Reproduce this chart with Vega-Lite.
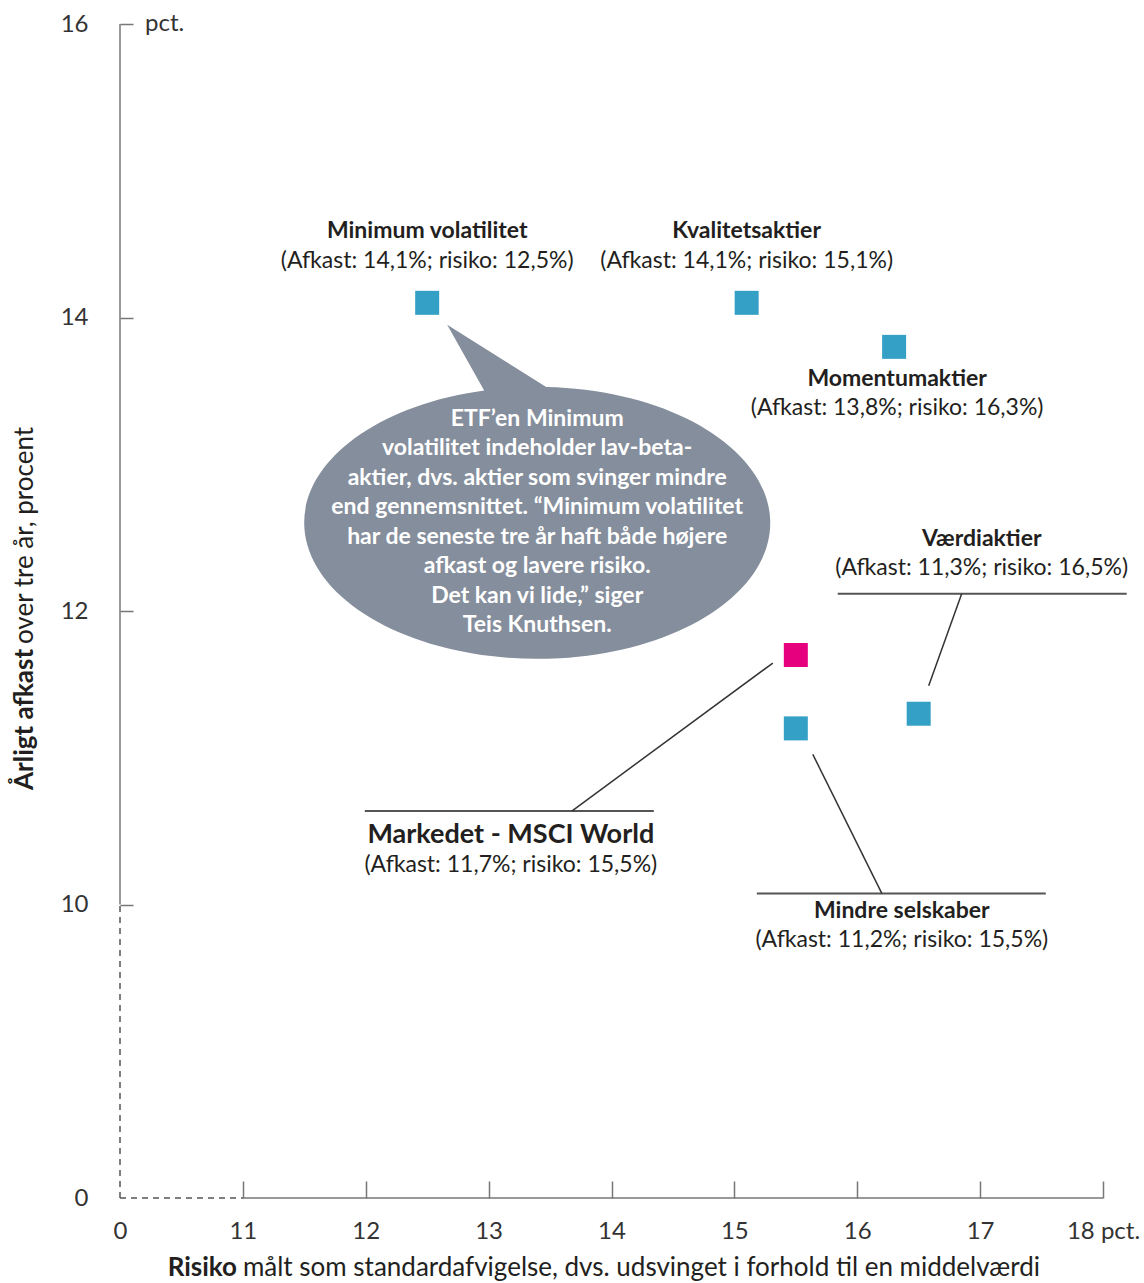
{
  "$schema": "https://vega.github.io/schema/vega-lite/v6.json",
  "width": 983,
  "height": 1174,
  "autosize": {"type": "none"},
  "padding": {"left": 120, "top": 24, "right": 41, "bottom": 85},
  "background": "white",
  "config": {"view": {"stroke": null}},
  "data": {"values": [
    {"navn": "Minimum volatilitet", "info": "(Afkast: 14,1%; risiko: 12,5%)", "risiko": 12.5, "afkast": 14.1, "type": "Faktor-ETF"},
    {"navn": "Kvalitetsaktier", "info": "(Afkast: 14,1%; risiko: 15,1%)", "risiko": 15.1, "afkast": 14.1, "type": "Faktor-ETF"},
    {"navn": "Momentumaktier", "info": "(Afkast: 13,8%; risiko: 16,3%)", "risiko": 16.3, "afkast": 13.8, "type": "Faktor-ETF"},
    {"navn": "Værdiaktier", "info": "(Afkast: 11,3%; risiko: 16,5%)", "risiko": 16.5, "afkast": 11.3, "type": "Faktor-ETF"},
    {"navn": "Mindre selskaber", "info": "(Afkast: 11,2%; risiko: 15,5%)", "risiko": 15.5, "afkast": 11.2, "type": "Faktor-ETF"},
    {"navn": "Markedet - MSCI World", "info": "(Afkast: 11,7%; risiko: 15,5%)", "risiko": 15.5, "afkast": 11.7, "type": "Marked"}
  ]},
  "encoding": {
    "x": {"field": "risiko", "type": "quantitative",
      "scale": {"domain": [10, 18], "nice": false, "zero": false},
      "axis": {"values": [10, 11, 12, 13, 14, 15, 16, 17, 18],
        "labelExpr": "datum.value == 10 ? '0' : datum.value == 18 ? '18 pct.' : datum.label",
        "domain": false, "grid": false, "tickSize": -17, "tickColor": "#777", "tickWidth": 1.5,
        "tickOpacity": {"condition": {"test": "datum.value == 10", "value": 0}, "value": 1},
        "labelFont": "Lato", "labelFontSize": 24, "labelColor": "#333", "labelPadding": 38,
        "labelFlush": false, "labelOverlap": false, "title": null}},
    "y": {"field": "afkast", "type": "quantitative",
      "scale": {"domain": [8, 16], "nice": false, "zero": false},
      "axis": {"values": [8, 10, 12, 14, 16],
        "labelExpr": "datum.value == 8 ? '0' : datum.label",
        "domain": false, "grid": false, "tickSize": -13, "tickColor": "#777", "tickWidth": 1.5,
        "tickOpacity": {"condition": {"test": "datum.value == 8", "value": 0}, "value": 1},
        "labelFont": "Lato", "labelFontSize": 24, "labelColor": "#333", "labelPadding": 45,
        "labelFlush": false, "labelOverlap": false, "title": null}}
  },
  "layer": [
    {"transform": [{"filter": "datum.navn === 'Minimum volatilitet'"}],
     "mark": {"type": "point", "filled": true, "opacity": 1, "color": "#858e9c", "strokeWidth": 0,
       "shape": "M -0.2275 -0.5684 L -0.3863 -0.8498 L 0.0386 -0.5833 A 1 0.5837 0 1 1 -0.2275 -0.5684 Z",
       "size": 217156, "xOffset": 110, "yOffset": 220}},
    {"transform": [{"filter": "datum.navn === 'Minimum volatilitet'"}],
     "mark": {"type": "text", "font": "Lato", "fontSize": 23, "fontWeight": "bold", "color": "white",
       "align": "center", "baseline": "middle", "lineHeight": 29.5, "dx": 110, "dy": 116,
       "text": ["ETF’en Minimum", "volatilitet indeholder lav-beta-", "aktier, dvs. aktier som svinger mindre", "end gennemsnittet. “Minimum volatilitet", "har de seneste tre år haft både højere", "afkast og lavere risiko.", "Det kan vi lide,” siger", "Teis Knuthsen."]}},
    {"transform": [{"filter": "datum.navn === 'Minimum volatilitet'"}],
     "mark": {"type": "rule", "color": "#777", "strokeWidth": 1.5},
     "encoding": {"x": {"datum": 10}, "y": {"datum": 10}, "y2": {"datum": 16}}},
    {"transform": [{"filter": "datum.navn === 'Minimum volatilitet'"}],
     "mark": {"type": "rule", "color": "#555", "strokeWidth": 1.5, "strokeDash": [6, 5]},
     "encoding": {"x": {"datum": 10}, "y": {"datum": 8}, "y2": {"datum": 10}}},
    {"transform": [{"filter": "datum.navn === 'Minimum volatilitet'"}],
     "mark": {"type": "rule", "color": "#777", "strokeWidth": 1.5},
     "encoding": {"x": {"datum": 11}, "x2": {"datum": 18}, "y": {"datum": 8}}},
    {"transform": [{"filter": "datum.navn === 'Minimum volatilitet'"}],
     "mark": {"type": "rule", "color": "#555", "strokeWidth": 1.5, "strokeDash": [6, 5]},
     "encoding": {"x": {"datum": 10}, "x2": {"datum": 11}, "y": {"datum": 8}}},

    {"transform": [{"filter": "datum.navn === 'Værdiaktier'"}],
     "mark": {"type": "rule", "color": "#555", "strokeWidth": 2, "xOffset": -81, "x2Offset": 208, "yOffset": -120, "y2Offset": -120},
     "encoding": {"x2": {"field": "risiko"}, "y2": {"field": "afkast"}}},
    {"transform": [{"filter": "datum.navn === 'Værdiaktier'"}],
     "mark": {"type": "rule", "color": "#333", "strokeWidth": 1.5, "xOffset": 43, "x2Offset": 10, "yOffset": -120, "y2Offset": -28},
     "encoding": {"x2": {"field": "risiko"}, "y2": {"field": "afkast"}}},
    {"transform": [{"filter": "datum.navn === 'Markedet - MSCI World'"}],
     "mark": {"type": "rule", "color": "#555", "strokeWidth": 2, "xOffset": -431, "x2Offset": -142, "yOffset": 156, "y2Offset": 156},
     "encoding": {"x2": {"field": "risiko"}, "y2": {"field": "afkast"}}},
    {"transform": [{"filter": "datum.navn === 'Markedet - MSCI World'"}],
     "mark": {"type": "rule", "color": "#333", "strokeWidth": 1.5, "xOffset": -224, "x2Offset": -23, "yOffset": 156, "y2Offset": 8},
     "encoding": {"x2": {"field": "risiko"}, "y2": {"field": "afkast"}}},
    {"transform": [{"filter": "datum.navn === 'Mindre selskaber'"}],
     "mark": {"type": "rule", "color": "#555", "strokeWidth": 2, "xOffset": -39, "x2Offset": 250, "yOffset": 165, "y2Offset": 165},
     "encoding": {"x2": {"field": "risiko"}, "y2": {"field": "afkast"}}},
    {"transform": [{"filter": "datum.navn === 'Mindre selskaber'"}],
     "mark": {"type": "rule", "color": "#333", "strokeWidth": 1.5, "xOffset": 86, "x2Offset": 17, "yOffset": 165, "y2Offset": 26},
     "encoding": {"x2": {"field": "risiko"}, "y2": {"field": "afkast"}}},

    {"mark": {"type": "point", "shape": "square", "filled": true, "opacity": 1, "size": 576, "strokeWidth": 0},
     "encoding": {"color": {"field": "type", "type": "nominal",
       "scale": {"domain": ["Faktor-ETF", "Marked"], "range": ["#35a0c6", "#e6007e"]}, "legend": null}}},

    {"transform": [{"filter": "datum.navn === 'Minimum volatilitet' || datum.navn === 'Kvalitetsaktier'"}],
     "mark": {"type": "text", "font": "Lato", "fontSize": 23, "fontWeight": "bold", "color": "#231f20", "baseline": "middle", "dy": -72},
     "encoding": {"text": {"field": "navn"}}},
    {"transform": [{"filter": "datum.navn === 'Minimum volatilitet' || datum.navn === 'Kvalitetsaktier'"}],
     "mark": {"type": "text", "font": "Lato", "fontSize": 23, "color": "#231f20", "baseline": "middle", "dy": -42},
     "encoding": {"text": {"field": "info"}}},
    {"transform": [{"filter": "datum.navn === 'Momentumaktier'"}],
     "mark": {"type": "text", "font": "Lato", "fontSize": 23, "fontWeight": "bold", "color": "#231f20", "baseline": "middle", "dx": 3, "dy": 32},
     "encoding": {"text": {"field": "navn"}}},
    {"transform": [{"filter": "datum.navn === 'Momentumaktier'"}],
     "mark": {"type": "text", "font": "Lato", "fontSize": 23, "color": "#231f20", "baseline": "middle", "dx": 3, "dy": 61},
     "encoding": {"text": {"field": "info"}}},
    {"transform": [{"filter": "datum.navn === 'Værdiaktier'"}],
     "mark": {"type": "text", "font": "Lato", "fontSize": 23, "fontWeight": "bold", "color": "#231f20", "baseline": "middle", "dx": 63, "dy": -175},
     "encoding": {"text": {"field": "navn"}}},
    {"transform": [{"filter": "datum.navn === 'Værdiaktier'"}],
     "mark": {"type": "text", "font": "Lato", "fontSize": 23, "color": "#231f20", "baseline": "middle", "dx": 63, "dy": -146},
     "encoding": {"text": {"field": "info"}}},
    {"transform": [{"filter": "datum.navn === 'Markedet - MSCI World'"}],
     "mark": {"type": "text", "font": "Lato", "fontSize": 27, "fontWeight": "bold", "color": "#231f20", "baseline": "middle", "dx": -285, "dy": 180},
     "encoding": {"text": {"field": "navn"}}},
    {"transform": [{"filter": "datum.navn === 'Markedet - MSCI World'"}],
     "mark": {"type": "text", "font": "Lato", "fontSize": 23, "color": "#231f20", "baseline": "middle", "dx": -285, "dy": 210},
     "encoding": {"text": {"field": "info"}}},
    {"transform": [{"filter": "datum.navn === 'Mindre selskaber'"}],
     "mark": {"type": "text", "font": "Lato", "fontSize": 23, "fontWeight": "bold", "color": "#231f20", "baseline": "middle", "dx": 106, "dy": 183},
     "encoding": {"text": {"field": "navn"}}},
    {"transform": [{"filter": "datum.navn === 'Mindre selskaber'"}],
     "mark": {"type": "text", "font": "Lato", "fontSize": 23, "color": "#231f20", "baseline": "middle", "dx": 106, "dy": 212},
     "encoding": {"text": {"field": "info"}}},

    {"transform": [{"filter": "datum.navn === 'Minimum volatilitet'"}],
     "mark": {"type": "text", "font": "Lato", "fontSize": 24, "color": "#333", "align": "left", "baseline": "middle", "dx": 25, "text": "pct."},
     "encoding": {"x": {"datum": 10}, "y": {"datum": 16}}},
    {"transform": [{"filter": "datum.navn === 'Minimum volatilitet'"}],
     "mark": {"type": "text", "font": "Lato", "fontSize": 26, "fontWeight": "bold", "color": "#231f20", "align": "right", "baseline": "middle", "text": "Risiko"},
     "encoding": {"x": {"datum": 10.952}, "y": {"datum": 7.52}}},
    {"transform": [{"filter": "datum.navn === 'Minimum volatilitet'"}],
     "mark": {"type": "text", "font": "Lato", "fontSize": 26, "color": "#231f20", "align": "left", "baseline": "middle", "text": "målt som standardafvigelse, dvs. udsvinget i forhold til en middelværdi"},
     "encoding": {"x": {"datum": 11.0}, "y": {"datum": 7.52}}},
    {"transform": [{"filter": "datum.navn === 'Minimum volatilitet'"}],
     "mark": {"type": "text", "font": "Lato", "fontSize": 26, "fontWeight": "bold", "color": "#231f20", "align": "left", "baseline": "middle", "angle": 270, "text": "Årligt afkast"},
     "encoding": {"x": {"datum": 9.2269}, "y": {"datum": 10.78}}},
    {"transform": [{"filter": "datum.navn === 'Minimum volatilitet'"}],
     "mark": {"type": "text", "font": "Lato", "fontSize": 26, "color": "#231f20", "align": "left", "baseline": "middle", "angle": 270, "text": "over tre år, procent"},
     "encoding": {"x": {"datum": 9.2269}, "y": {"datum": 11.775}}}
  ]
}
